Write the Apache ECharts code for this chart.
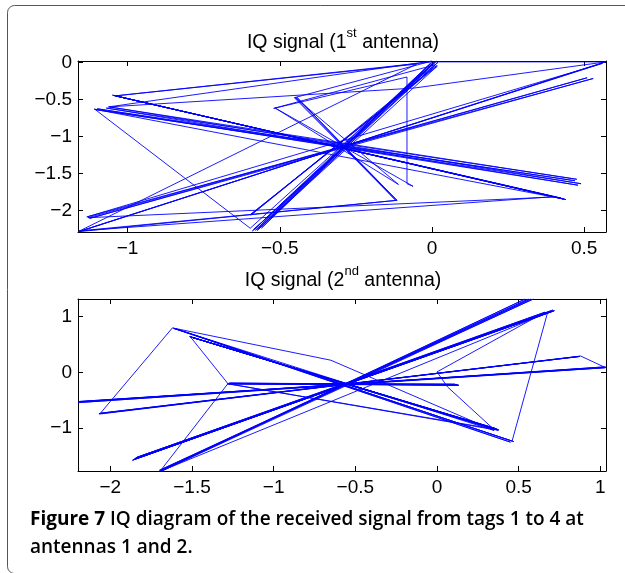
<!DOCTYPE html>
<html>
<head>
<meta charset="utf-8">
<script src="https://cdn.jsdelivr.net/npm/echarts@6/dist/echarts.min.js"></script>
<style>
html,body{margin:0;padding:0;background:#fff;}
#chart{width:625px;height:573px;}
</style>
</head>
<body>
<div id="chart"></div>
<script>
// ---- Antenna 1 IQ samples (in-phase, quadrature) ----
const ant1I = [-1.163, 0.572, -1.158, 0.560, -1.134, 0.530, -1.125, 0.510, -1.130, 0.400,
  -1.040, 0.435, -1.050, 0.425, -1.035, 0.440, -1.045, 0.430,
  -1.110, 0.490, -1.060, 0.476, -1.070, 0.480, -1.100, 0.470, -1.106, -0.597,
  0.010, -0.580, 0.000, -0.570, 0.020, -0.590, -0.005, -0.560, 0.015, -0.585, 0.005, -0.575,
  0.018, -0.597, 0.015, -0.595, 0.010,
  -0.520, -0.082, -0.082, -0.062, -0.515, -0.110, -0.450, -0.115, -0.445, -0.120, -0.452,
  0.000, -1.063, -0.060, 0.572, 0.000, -1.040, -0.050, -1.163, -0.115, -1.160, 0.400];
const ant1Q = [-2.294, 0.012, -2.285, -0.010, -2.090, -0.215, -2.110, -0.205, -2.100, -1.820,
  -0.450, -1.850, -0.440, -1.835, -0.455, -1.855, -0.445, -1.845,
  -0.630, -1.640, -0.600, -1.580, -0.615, -1.660, -0.625, -1.600, -0.637, -2.243,
  0.015, -2.270, 0.000, -2.250, 0.005, -2.280, -0.010, -2.240, 0.020, -2.260, -0.005, -2.275,
  -0.046, -2.060, -0.040, -2.065, -0.030,
  -0.620, -0.195, -1.640, -1.675, -0.615, -1.650, -0.470, -1.865, -0.465, -1.860, -0.475,
  0.022, -0.600, -0.345, 0.010, 0.010, -0.450, -0.020, -2.290, -1.865, -2.280, -1.815];

// ---- Antenna 2 IQ samples ----
const ant2I = [-2.198, 1.035, -2.190, 1.030, -2.195, 1.025, -2.185, 1.030, 0.880, -2.070, 0.870,
  -2.060, 0.875, -2.065, -1.620, -0.650, 0.350, -1.610, 0.470, -1.600, 0.450, -1.615, 0.460, 0.676,
  -1.855, 0.700, -1.840, 0.720, -1.865, 0.690, -1.850, 0.710, -1.845, 0.680, -1.860, 0.715,
  -1.835, 0.660, -1.850, 0.700,
  -1.690, 0.560, -1.700, 0.590, -1.680, 0.540, -1.695, 0.575, -1.690,
  -1.280, 0.130, -1.270, 0.120, -1.285, 0.135, -1.275, 0.110, -1.280, 0.125, -1.280,
  -1.510, 0.380, -1.500, 0.360, -1.515, 0.370, -1.505, 0.375, -1.510, 0.355, -1.495, 0.360,
  -1.275, 0.350, 0.065, 0.000, 0.660];
const ant2Q = [-0.530, 0.095, -0.520, 0.085, -0.540, 0.100, -0.525, 0.090, 0.295, -0.740, 0.285,
  -0.730, 0.290, -0.745, 0.800, 0.220, -1.040, 0.790, -1.240, 0.785, -1.250, 0.795, -1.230, 1.060,
  -1.560, 1.100, -1.540, 1.110, -1.575, 1.090, -1.550, 1.120, -1.530, 1.080, -1.565, 1.105,
  -1.520, 1.080, -1.555, 1.095,
  -1.767, 1.318, -1.755, 1.318, -1.760, 1.318, -1.765, 1.318, -1.750,
  -0.200, -0.225, -0.190, -0.215, -0.205, -0.230, -0.195, -0.210, -0.200, -0.220, -0.200,
  0.640, -1.030, 0.630, -1.010, 0.645, -1.020, 0.635, -1.040, 0.640, -1.000, 0.625, -1.020,
  -0.205, -1.025, -0.260, 0.010, 1.080];

// ---- Axis ranges and tick labels ----
const ant1IRange = [-1.163, 0.572];
const ant1QRange = [-2.294, 0.022];
const ant2IRange = [-2.198, 1.035];
const ant2QRange = [-1.767, 1.318];
const ant1ITicks = [-1, -0.5, 0, 0.5];
const ant1QTicks = [-2, -1.5, -1, -0.5, 0];
const ant2ITicks = [-2, -1.5, -1, -0.5, 0, 0.5, 1];
const ant2QTicks = [-1, 0, 1];

const titles = [['IQ signal (1', 'st', ' antenna)'], ['IQ signal (2', 'nd', ' antenna)']];
const captionBold = 'Figure 7';
const captionLine1 = ' IQ diagram of the received signal from tags 1 to 4 at';
const captionLine2 = 'antennas 1 and 2.';

const FONT = '"Liberation Sans", Arial, Helvetica, sans-serif';
const CAPFONT = '"Open Sans", sans-serif';
const fmt = v => (v < 0 ? '\u2212' : '') + String(Math.abs(v));

function pairs(xs, ys) { return xs.map((x, i) => [x, ys[i]]); }

function makeX(gi, range, ticks, pos, labels) {
  return {
    type: 'value', gridIndex: gi, position: pos, min: range[0], max: range[1],
    axisLine: { show: true, onZero: false, lineStyle: { color: '#000', width: 1 } },
    axisTick: { show: true, inside: true, length: 5, customValues: ticks, lineStyle: { color: '#000' } },
    axisLabel: { show: labels, customValues: ticks, formatter: fmt, color: '#000',
      fontFamily: FONT, fontSize: 19, margin: 7 },
    splitLine: { show: false }
  };
}
function makeY(gi, range, ticks, pos, labels) {
  return {
    type: 'value', gridIndex: gi, position: pos, min: range[0], max: range[1],
    axisLine: { show: true, onZero: false, lineStyle: { color: '#000', width: 1 } },
    axisTick: { show: true, inside: true, length: 5, customValues: ticks, lineStyle: { color: '#000' } },
    axisLabel: { show: labels, customValues: ticks, formatter: fmt, color: '#000',
      fontFamily: FONT, fontSize: 19, margin: 6 },
    splitLine: { show: false }
  };
}

function titleText(t, cx, cy) {
  return {
    type: 'text', x: cx, y: cy, silent: true,
    style: {
      text: '{a|' + t[0] + '}{s|' + t[1] + '}{a|' + t[2] + '}',
      align: 'center', verticalAlign: 'middle',
      rich: {
        a: { fontFamily: FONT, fontSize: 19.5, fill: '#000', lineHeight: 26, verticalAlign: 'bottom' },
        s: { fontFamily: FONT, fontSize: 13, fill: '#000', lineHeight: 26, verticalAlign: 'top' }
      }
    }
  };
}

const chart = echarts.init(document.getElementById('chart'), null, { renderer: 'canvas' });
chart.setOption({
  animation: false,
  backgroundColor: '#fff',
  grid: [
    { left: 78, top: 61, width: 528, height: 171, containLabel: false },
    { left: 78, top: 299, width: 528, height: 172, containLabel: false }
  ],
  xAxis: [
    makeX(0, ant1IRange, ant1ITicks, 'bottom', true),
    makeX(0, ant1IRange, ant1ITicks, 'top', false),
    makeX(1, ant2IRange, ant2ITicks, 'bottom', true),
    makeX(1, ant2IRange, ant2ITicks, 'top', false)
  ],
  yAxis: [
    makeY(0, ant1QRange, ant1QTicks, 'left', true),
    makeY(0, ant1QRange, ant1QTicks, 'right', false),
    makeY(1, ant2QRange, ant2QTicks, 'left', true),
    makeY(1, ant2QRange, ant2QTicks, 'right', false)
  ],
  series: [
    { type: 'line', xAxisIndex: 0, yAxisIndex: 0, data: pairs(ant1I, ant1Q), showSymbol: false,
      symbol: 'none', clip: true, lineStyle: { color: '#0000ff', width: 0.9 }, silent: true },
    { type: 'line', xAxisIndex: 2, yAxisIndex: 2, data: pairs(ant2I, ant2Q), showSymbol: false,
      symbol: 'none', clip: true, lineStyle: { color: '#0000ff', width: 0.9 }, silent: true }
  ],
  graphic: [
    { type: 'rect', shape: { x: 7.5, y: 5.5, width: 700, height: 568, r: 7 }, silent: true,
      style: { fill: 'none', stroke: '#555', lineWidth: 1 } },
    titleText(titles[0], 343, 40),
    titleText(titles[1], 343, 278),
    {
      type: 'text', x: 30, y: 520, silent: true,
      style: {
        text: '{b|' + captionBold + '}{n|' + captionLine1 + '}',
        verticalAlign: 'middle',
        rich: {
          b: { fontFamily: CAPFONT, fontWeight: 'bold', fontSize: 19, fill: '#000' },
          n: { fontFamily: CAPFONT, fontWeight: 600, fontSize: 19, fill: '#000' }
        }
      }
    },
    {
      type: 'text', x: 30, y: 548, silent: true,
      style: { text: captionLine2, verticalAlign: 'middle',
        fontFamily: CAPFONT, fontWeight: 600, fontSize: 19, fill: '#000' }
    }
  ]
});
</script>
</body>
</html>
